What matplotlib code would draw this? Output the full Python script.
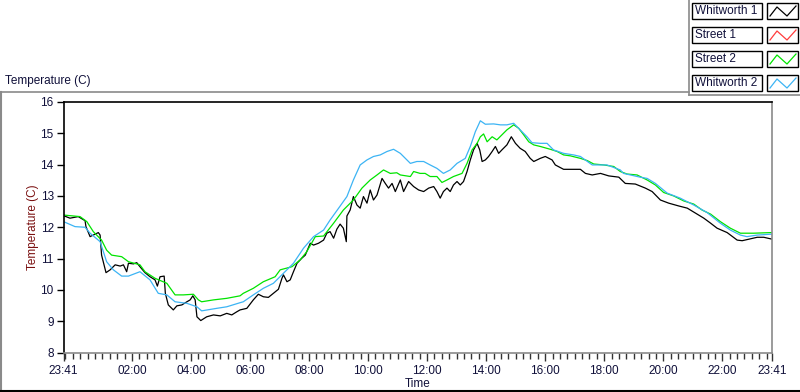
import numpy as np
import matplotlib
matplotlib.use("Agg")
import matplotlib.pyplot as plt
from matplotlib.lines import Line2D
from matplotlib.patches import Rectangle

plt.rcParams["font.family"] = ["Liberation Sans", "DejaVu Sans"]

# hours after the 23:41 start, and temperature in C
whit1_t = [0.00, 0.22, 0.50, 0.73, 0.76, 0.90, 1.01, 1.18, 1.24, 1.29, 1.44, 1.58, 1.75, 1.92, 2.03,
           2.14, 2.20, 2.37, 2.48, 2.59, 2.76, 2.93, 3.10, 3.18, 3.27, 3.41, 3.45, 3.55, 3.72, 3.84,
           4.01, 4.18, 4.29, 4.38, 4.46, 4.52, 4.65, 4.85, 5.08, 5.31, 5.53, 5.70, 5.87, 5.98, 6.21,
           6.43, 6.60, 6.77, 6.94, 7.11, 7.28, 7.40, 7.45, 7.57, 7.68, 7.79, 7.91, 8.07, 8.19, 8.36,
           8.47, 8.64, 8.81, 8.92, 9.03, 9.15, 9.26, 9.37, 9.48, 9.58, 9.60, 9.71, 9.82, 9.94, 10.05,
           10.16, 10.28, 10.39, 10.50, 10.62, 10.79, 10.90, 11.01, 11.13, 11.24, 11.41, 11.52, 11.69,
           11.86, 12.03, 12.20, 12.37, 12.54, 12.65, 12.76, 12.87, 12.99, 13.10, 13.21, 13.33, 13.44,
           13.55, 13.67, 13.78, 13.89, 14.01, 14.10, 14.18, 14.29, 14.40, 14.52, 14.63, 14.74, 14.85,
           15.02, 15.17, 15.31, 15.47, 15.64, 15.81, 15.93, 16.15, 16.32, 16.55, 16.66, 16.94, 17.17,
           17.51, 17.68, 17.91, 18.19, 18.47, 18.81, 19.03, 19.37, 19.71, 19.94, 20.22, 20.50, 20.84,
           21.13, 21.41, 21.69, 21.92, 22.14, 22.48, 22.82, 22.99, 23.27, 23.50, 23.72, 24.00]
whit1_v = [12.37, 12.29, 12.34, 12.21, 12.02, 11.70, 11.75, 11.83, 11.75, 11.11, 10.55, 10.64, 10.80,
           10.76, 10.80, 10.58, 10.85, 10.83, 10.87, 10.74, 10.55, 10.42, 10.32, 10.12, 10.42, 10.44,
           9.89, 9.52, 9.36, 9.49, 9.52, 9.62, 9.68, 9.81, 9.68, 9.14, 9.02, 9.14, 9.20, 9.17, 9.25,
           9.20, 9.30, 9.36, 9.41, 9.68, 9.86, 9.78, 9.76, 9.89, 10.02, 10.37, 10.48, 10.26, 10.32,
           10.58, 10.85, 11.01, 11.11, 11.49, 11.43, 11.49, 11.59, 11.81, 11.86, 11.65, 11.94, 12.10,
           11.97, 11.54, 12.36, 12.55, 12.98, 12.71, 12.61, 12.98, 12.77, 13.19, 12.87, 13.03, 13.56,
           13.40, 13.25, 13.40, 13.14, 13.51, 13.14, 13.46, 13.30, 13.19, 13.14, 13.25, 13.30, 13.14,
           12.93, 13.14, 13.25, 13.14, 13.35, 13.46, 13.35, 13.46, 13.78, 14.15, 14.47, 14.68, 14.47,
           14.10, 14.15, 14.26, 14.42, 14.58, 14.36, 14.47, 14.63, 14.89, 14.68, 14.52, 14.42, 14.20,
           14.10, 14.20, 14.26, 14.15, 13.99, 13.85, 13.85, 13.85, 13.72, 13.67, 13.72, 13.64, 13.60,
           13.40, 13.38, 13.25, 13.14, 12.87, 12.77, 12.68, 12.61, 12.45, 12.29, 12.13, 11.97, 11.83,
           11.59, 11.57, 11.63, 11.68, 11.68, 11.62]

street2_t = [0.00, 0.56, 0.79, 1.01, 1.29, 1.46, 1.63, 1.97, 2.20, 2.59, 2.76, 3.10, 3.50, 3.78, 4.06,
             4.40, 4.57, 4.68, 5.08, 5.53, 5.98, 6.09, 6.43, 6.77, 7.17, 7.34, 7.74, 8.02, 8.24, 8.53,
             8.81, 9.15, 9.48, 9.82, 10.11, 10.39, 10.62, 10.84, 11.07, 11.29, 11.41, 11.75, 11.86,
             12.08, 12.25, 12.42, 12.65, 12.82, 12.99, 13.21, 13.50, 13.67, 13.84, 14.01, 14.12, 14.23,
             14.35, 14.52, 14.68, 14.85, 15.02, 15.25, 15.42, 15.59, 15.76, 15.93, 16.15, 16.49, 16.72,
             16.94, 17.17, 17.51, 17.74, 17.96, 18.30, 18.64, 18.86, 19.09, 19.43, 19.77, 20.05, 20.33,
             20.67, 21.01, 21.35, 21.63, 21.92, 22.25, 22.59, 22.93, 23.38, 24.00]
street2_v = [12.39, 12.34, 12.18, 11.86, 11.59, 11.27, 11.11, 11.06, 10.90, 10.80, 10.58, 10.37, 10.21,
             9.84, 9.84, 9.86, 9.68, 9.62, 9.68, 9.73, 9.81, 9.89, 10.05, 10.26, 10.42, 10.64, 10.74,
             10.96, 11.22, 11.70, 11.72, 12.13, 12.55, 12.87, 13.25, 13.51, 13.67, 13.83, 13.72, 13.74,
             13.67, 13.62, 13.78, 13.72, 13.72, 13.62, 13.62, 13.43, 13.51, 13.62, 13.72, 14.04, 14.47,
             14.68, 14.89, 14.98, 14.73, 14.89, 14.79, 14.95, 15.11, 15.27, 15.16, 14.95, 14.73, 14.63,
             14.58, 14.49, 14.42, 14.31, 14.28, 14.20, 14.13, 14.02, 13.99, 13.94, 13.78, 13.70, 13.67,
             13.51, 13.35, 13.11, 13.00, 12.84, 12.74, 12.55, 12.42, 12.18, 11.97, 11.81, 11.81, 11.83]

whit2_t = [0.00, 0.39, 0.73, 0.90, 1.24, 1.46, 1.69, 1.97, 2.20, 2.59, 2.93, 3.21, 3.50, 3.78, 4.18,
           4.52, 4.68, 5.19, 5.53, 5.98, 6.09, 6.43, 6.77, 7.11, 7.45, 7.79, 8.13, 8.47, 8.81, 9.03,
           9.32, 9.60, 9.82, 10.05, 10.28, 10.50, 10.73, 10.96, 11.18, 11.41, 11.58, 11.75, 11.97,
           12.20, 12.42, 12.65, 12.87, 13.10, 13.33, 13.61, 13.78, 13.95, 14.12, 14.29, 14.57, 14.80,
           15.02, 15.25, 15.47, 15.70, 15.87, 16.15, 16.38, 16.60, 16.94, 17.28, 17.51, 17.91, 18.41,
           18.86, 18.97, 19.53, 19.77, 20.05, 20.45, 20.89, 21.35, 21.80, 22.25, 22.59, 22.93, 23.15,
           23.50, 24.00]
whit2_v = [12.18, 12.02, 12.00, 11.81, 11.54, 10.90, 10.64, 10.44, 10.44, 10.58, 10.32, 9.89, 9.84,
           9.62, 9.57, 9.46, 9.33, 9.41, 9.46, 9.59, 9.62, 9.84, 10.05, 10.21, 10.53, 10.85, 11.33,
           11.70, 11.91, 12.23, 12.61, 12.98, 13.51, 13.99, 14.15, 14.26, 14.31, 14.42, 14.49, 14.36,
           14.20, 14.04, 14.10, 14.10, 13.99, 13.88, 13.72, 13.83, 14.04, 14.20, 14.58, 15.05, 15.40,
           15.29, 15.30, 15.27, 15.27, 15.32, 15.11, 14.89, 14.70, 14.68, 14.68, 14.47, 14.36, 14.31,
           14.26, 13.99, 13.99, 13.83, 13.72, 13.60, 13.56, 13.40, 13.09, 12.93, 12.71, 12.47, 12.13,
           11.91, 11.75, 11.70, 11.75, 11.78]

series_names = ["Whitworth 1", "Street 1", "Street 2", "Whitworth 2"]
series_colors = ["black", "#ff3c3c", "#00e400", "#3cb4f4"]

tick_labels = ["23:41", "02:00", "04:00", "06:00", "08:00", "10:00", "12:00",
               "14:00", "16:00", "18:00", "20:00", "22:00", "23:41"]

W, H = 800, 392


def fx(x):
    return x / W


def fy(y):
    return 1 - y / H


def clock_to_hours(label, last=False):
    hh, mm = label.split(":")
    mins = (int(hh) * 60 + int(mm) - (23 * 60 + 41)) % 1440
    if last and mins == 0:
        mins = 1440
    return mins / 60.0


fig = plt.figure(figsize=(W / 100, H / 100), dpi=100)
fig.patch.set_facecolor("white")

ax = fig.add_axes([fx(63.5), fy(352.5), fx(772) - fx(63.5), fy(102) - fy(352.5)])

ax.plot(whit1_t, whit1_v, color=series_colors[0], lw=0.9)
ax.plot([], [], color=series_colors[1], lw=0.9)
ax.plot(street2_t, street2_v, color=series_colors[2], lw=0.9)
ax.plot(whit2_t, whit2_v, color=series_colors[3], lw=0.9)

ax.set_xlim(0, 24)
ax.set_ylim(8, 16)

major = [clock_to_hours(l, last=(i == len(tick_labels) - 1)) for i, l in enumerate(tick_labels)]
ax.set_xticks(major)
ax.set_xticklabels(tick_labels)
ax.set_xticks(np.arange(4, 1440, 15) / 60.0, minor=True)
ax.set_yticks(range(8, 17))

for s in ["top", "left"]:
    ax.spines[s].set_color("black")
for s in ["bottom", "right"]:
    ax.spines[s].set_color("#8a8a8a")
for s in ax.spines.values():
    s.set_linewidth(1.2)

ax.tick_params(axis="x", which="major", length=6, width=1, color="#333333",
               labelsize=8.5, pad=3, labelcolor="#10103a")
ax.tick_params(axis="x", which="minor", length=4, width=1, color="#333333")
ax.tick_params(axis="y", which="major", length=5, width=1, color="black",
               labelsize=8.5, pad=2, labelcolor="#10103a")

ax.set_ylabel("Temperature (C)", color="#7a1010", fontsize=8.5)
ax.yaxis.set_label_coords(-0.043, 0.5)
ax.set_xlabel("Time", color="#10103a", fontsize=8.5)
ax.xaxis.set_label_coords(0.5, -0.126)
ax.xaxis.label.set_va("center")
ax.yaxis.label.set_va("center")

# panel frame around the graph
fig.add_artist(Line2D([fx(0), fx(689)], [fy(92), fy(92)], color="#8a8a8a", lw=1.2))
fig.add_artist(Line2D([fx(1), fx(1)], [fy(92), fy(391)], color="#8a8a8a", lw=1.5))
fig.add_artist(Line2D([fx(0), fx(800)], [fy(390.5), fy(390.5)], color="black", lw=1.5))
fig.text(fx(5), fy(81), "Temperature (C)", fontsize=8.5, va="center", ha="left", color="#10103a")

# legend panel
fig.add_artist(Line2D([fx(689), fx(689)], [fy(0), fy(95)], color="#8a8a8a", lw=1.2))
fig.add_artist(Line2D([fx(689), fx(800)], [fy(95), fy(95)], color="#8a8a8a", lw=1.2))
for i, (name, col) in enumerate(zip(series_names, series_colors)):
    top = 3 + 24 * i
    fig.add_artist(Rectangle((fx(692), fy(top + 16)), fx(70), fy(0) - fy(16),
                             facecolor="white", edgecolor="black", lw=1.0))
    fig.add_artist(Rectangle((fx(767), fy(top + 16)), fx(31), fy(0) - fy(16),
                             facecolor="white", edgecolor="black", lw=1.0))
    fig.text(fx(695), fy(top + 8.5), name, fontsize=8.5, va="center", ha="left", color="#10103a")
    zx = [770, 777, 787, 796]
    zy = [top + 13, top + 4, top + 13, top + 3]
    fig.add_artist(Line2D([fx(v) for v in zx], [fy(v) for v in zy], color=col, lw=0.9))

fig.savefig("out.png", dpi=100)
